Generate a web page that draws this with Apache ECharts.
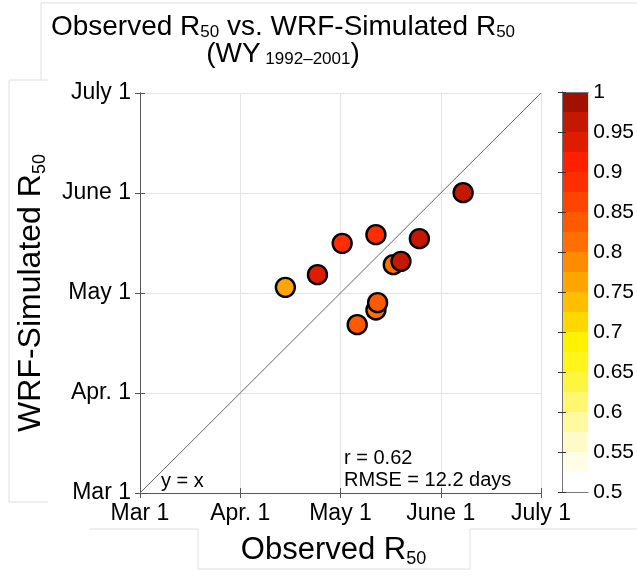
<!DOCTYPE html>
<html>
<head>
<meta charset="utf-8">
<script src="https://cdn.jsdelivr.net/npm/echarts@6/dist/echarts.min.js"></script>
<style>
  html, body { margin: 0; padding: 0; background: #fff; }
  #chart { width: 637px; height: 581px; }
</style>
</head>
<body>
<div id="chart"></div>
<script>
// Axis ticks: days after Mar 1, one label per month
const tickDays = [0, 30, 60, 90, 120];
const tickLabels = ['Mar 1', 'Apr. 1', 'May 1', 'June 1', 'July 1'];

// Half-flow dates (days after Mar 1) and colour value for each water year
const observedDays  = [43.5, 53.1, 60.5, 70.6, 83.6, 75.8, 78.1, 70.6, 71.1, 65.0, 96.7];
const simulatedDays = [61.7, 65.5, 74.9, 77.5, 76.3, 68.5, 69.5, 54.9, 57.1, 50.5, 90.1];
const colourValues  = [0.76, 0.93, 0.88, 0.88, 0.96, 0.81, 0.96, 0.81, 0.84, 0.84, 0.96];

// Colour scale: 20 equal bins from 0.5 to 1
const scaleMin = 0.5, scaleMax = 1, scaleStep = 0.025;
const binColours = [
  '#ffffff', '#fffde6', '#fffbc8', '#fff9a0', '#fff770',
  '#fff540', '#fff41c', '#fff200', '#ffd800', '#ffbe00',
  '#ffa500', '#ff8c00', '#ff7000', '#ff5a00', '#ff4400',
  '#ff2e00', '#ff2000', '#de1c00', '#c41800', '#a21000'
];

const statsLines = ['r = 0.62', 'RMSE = 12.2 days'];

const points = observedDays.map((x, i) => [x, simulatedDays[i], colourValues[i]]);
const pieces = binColours.map((c, i) => ({
  gte: scaleMin + i * scaleStep,
  lt: scaleMin + (i + 1) * scaleStep + (i === binColours.length - 1 ? 1e-9 : 0),
  color: c
}));
const bins = binColours.map((c, i) => [0, scaleMin + i * scaleStep, scaleMin + (i + 1) * scaleStep]);

const FONT = 'Liberation Sans, Arial, sans-serif';
const axisGrey = '#555';
const subStyle = (size, lh) => ({
  fontSize: size, lineHeight: lh, verticalAlign: 'bottom', fontFamily: FONT, color: '#000', fontWeight: 'normal'
});
const mainStyle = (size, lh) => ({
  fontSize: size, lineHeight: lh, fontFamily: FONT, color: '#000', fontWeight: 'normal'
});

const chart = echarts.init(document.getElementById('chart'));

const frameLine = (x1, y1, x2, y2) => ({
  type: 'line', silent: true, z: -10,
  shape: { x1, y1, x2, y2 },
  style: { stroke: '#dedede', lineWidth: 1 }
});

chart.setOption({
  animation: false,
  backgroundColor: '#fff',
  textStyle: { fontFamily: FONT },
  title: {
    text: '{m|Observed R}{s|50}{m| vs. WRF-Simulated R}{s|50}\n{m|(WY}{s| 1992–2001}{m|)}',
    left: 283,
    top: 14,
    padding: 0,
    textAlign: 'center',
    textStyle: {
      fontWeight: 'normal',
      rich: { m: mainStyle(28, 27), s: subStyle(17, 8) }
    }
  },
  grid: [
    { left: 140, top: 93, width: 401, height: 400, show: false },
    { left: 562, top: 92, width: 28, height: 400, show: false }
  ],
  xAxis: [
    {
      gridIndex: 0, type: 'value', min: 0, max: 120, interval: 30, position: 'bottom',
      name: '{m|Observed R}{s|50}', nameLocation: 'middle', nameGap: 39,
      nameTextStyle: { padding: [0, 14, 0, 0], rich: { m: mainStyle(31, 36), s: subStyle(18, 13) } },
      axisLine: { show: true, lineStyle: { color: axisGrey, width: 1 } },
      axisTick: { show: true, inside: true, length: 5, lineStyle: { color: axisGrey } },
      axisLabel: {
        fontSize: 23, color: '#000', margin: 9,
        formatter: v => tickLabels[tickDays.indexOf(v)]
      },
      splitLine: { show: true, lineStyle: { color: '#e4e4e4', width: 1 } }
    },
    {
      gridIndex: 0, type: 'value', min: 0, max: 120, interval: 30, position: 'top',
      axisLine: { show: true, lineStyle: { color: axisGrey, width: 1 } },
      axisTick: { show: true, inside: true, length: 5, lineStyle: { color: axisGrey } },
      axisLabel: { show: false }, splitLine: { show: false }
    },
    {
      gridIndex: 1, type: 'value', min: 0, max: 1, position: 'bottom', z: 10,
      axisLine: { show: true, lineStyle: { color: '#777' } },
      axisTick: { show: false }, axisLabel: { show: false }, splitLine: { show: false }
    },
    {
      gridIndex: 1, type: 'value', min: 0, max: 1, position: 'top', z: 10,
      axisLine: { show: true, lineStyle: { color: '#777' } },
      axisTick: { show: false }, axisLabel: { show: false }, splitLine: { show: false }
    }
  ],
  yAxis: [
    {
      gridIndex: 0, type: 'value', min: 0, max: 120, interval: 30, position: 'left',
      name: '{m|WRF-Simulated R}{s|50}', nameLocation: 'middle', nameGap: 91,
      nameTextStyle: { rich: { m: mainStyle(32, 36), s: subStyle(18, 13) } },
      axisLine: { show: true, lineStyle: { color: axisGrey, width: 1 } },
      axisTick: { show: true, inside: true, length: 5, lineStyle: { color: axisGrey } },
      axisLabel: {
        fontSize: 23, color: '#000', margin: 9,
        formatter: v => tickLabels[tickDays.indexOf(v)]
      },
      splitLine: { show: true, lineStyle: { color: '#e4e4e4', width: 1 } }
    },
    {
      gridIndex: 0, type: 'value', min: 0, max: 120, interval: 30, position: 'right',
      axisLine: { show: true, lineStyle: { color: axisGrey, width: 1 } },
      axisTick: { show: true, inside: true, length: 5, lineStyle: { color: axisGrey } },
      axisLabel: { show: false }, splitLine: { show: false }
    },
    {
      gridIndex: 1, type: 'value', min: scaleMin, max: scaleMax, interval: 0.05, position: 'right', z: 10,
      axisLine: { show: true, lineStyle: { color: '#777' } },
      axisTick: { show: true, inside: true, length: 4, lineStyle: { color: '#333' } },
      axisLabel: {
        fontSize: 21, color: '#000', margin: 5,
        formatter: v => String(Math.round(v * 100) / 100)
      },
      splitLine: { show: false }
    },
    {
      gridIndex: 1, type: 'value', min: scaleMin, max: scaleMax, interval: 0.05, position: 'left', z: 10,
      axisLine: { show: true, lineStyle: { color: '#777' } },
      axisTick: { show: true, inside: true, length: 4, lineStyle: { color: '#333' } },
      axisLabel: { show: false }, splitLine: { show: false }
    }
  ],
  visualMap: {
    type: 'piecewise', show: false, dimension: 2, seriesIndex: 0, pieces: pieces
  },
  series: [
    {
      type: 'scatter', xAxisIndex: 0, yAxisIndex: 0, z: 5,
      symbol: 'circle', symbolSize: 19,
      itemStyle: { borderColor: '#000', borderWidth: 2.4, opacity: 1 },
      data: points
    },
    {
      type: 'line', xAxisIndex: 0, yAxisIndex: 0, z: 3,
      symbol: 'none', silent: true,
      lineStyle: { color: '#555', width: 0.9 },
      data: [[0, 0], [120, 120]]
    },
    {
      type: 'custom', xAxisIndex: 2, yAxisIndex: 2, silent: true, z: 0,
      encode: { x: 0, y: [1, 2] },
      data: bins,
      renderItem: (params, api) => {
        const topLeft = api.coord([0, api.value(2)]);
        const bottomRight = api.coord([1, api.value(1)]);
        return {
          type: 'rect',
          shape: {
            x: topLeft[0], y: topLeft[1],
            width: bottomRight[0] - topLeft[0], height: bottomRight[1] - topLeft[1]
          },
          style: { fill: binColours[params.dataIndex] }
        };
      }
    }
  ],
  graphic: [
    frameLine(41, 3, 637, 3),
    frameLine(41, 3, 41, 80),
    frameLine(9, 80, 48, 80),
    frameLine(9, 80, 9, 502),
    frameLine(9, 502, 48, 502),
    frameLine(90, 529, 198, 529),
    frameLine(470, 529, 637, 529),
    frameLine(198, 529, 198, 569),
    frameLine(470, 529, 470, 569),
    frameLine(198, 569, 470, 569),
    {
      type: 'text', left: 161, top: 471, z: 10,
      style: { text: 'y = x', fontSize: 20, fontFamily: FONT, fill: '#000' }
    },
    {
      type: 'text', left: 344, top: 447, z: 10,
      style: { text: statsLines.join('\n'), fontSize: 20, lineHeight: 22, fontFamily: FONT, fill: '#000' }
    }
  ]
});
</script>
</body>
</html>
